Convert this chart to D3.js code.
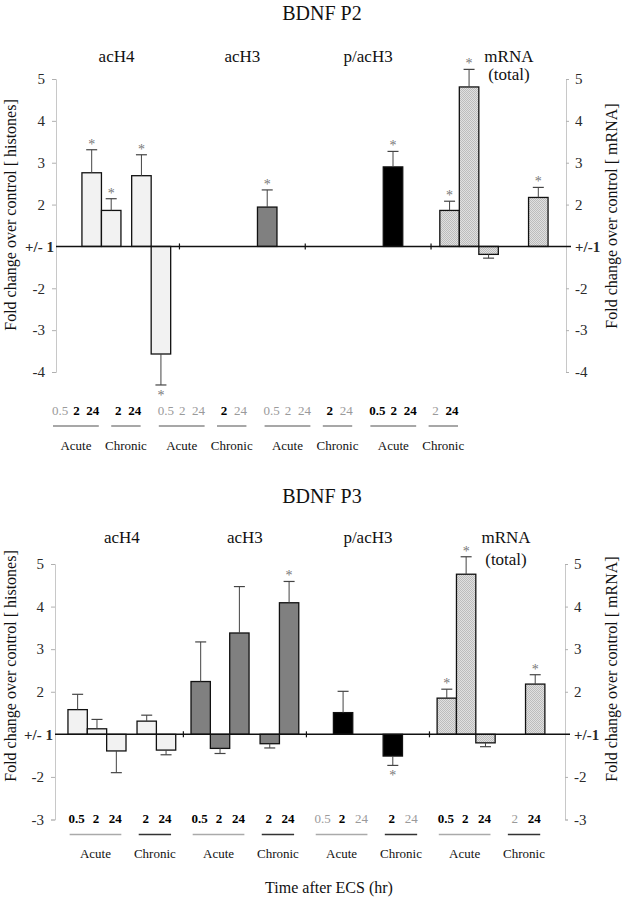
<!DOCTYPE html>
<html><head><meta charset="utf-8">
<script src="https://cdn.jsdelivr.net/npm/d3@7"></script>
<style>
body{margin:0;background:#fff}
svg{display:block}
text{font-family:"Liberation Serif","Times New Roman",serif}
</style>
</head><body>
<svg id="chart" width="622" height="900"></svg>
<script>
// ---------------- DATA ----------------
const groups = ["acH4", "acH3", "p/acH3", "mRNA"];
const acuteTimes = ["0.5", "2", "24"];
const chronicTimes = ["2", "24"];
const periodLabels = ["Acute", "Chronic"];
const yTicksP2 = [5, 4, 3, 2, 1, -2, -3, -4];
const yTicksP3 = [5, 4, 3, 2, 1, -2, -3];
const xAxisTitle = "Time after ECS (hr)";
const leftAxisTitle = "Fold change over control [ histones]";
const rightAxisTitle = "Fold change over control [ mRNA]";

// fold change per group: [acute 0.5, acute 2, acute 24, chronic 2, chronic 24]
const p2Mean = [
  [null, 2.76, 1.86, 2.69, -3.57],
  [null, null, null, 1.94, null],
  [null, null, null, 2.90, null],
  [1.86, 4.81, -1.19, null, 2.17]
];
const p2Sem = [
  [null, 0.55, 0.28, 0.50, 0.74],
  [null, null, null, 0.41, null],
  [null, null, null, 0.37, null],
  [0.22, 0.42, 0.09, null, 0.24]
];
const p2Star = [
  [0, 1, 1, 1, 1],
  [0, 0, 0, 1, 0],
  [0, 0, 0, 1, 0],
  [1, 1, 0, 0, 1]
];
const p2BoldLabel = [
  [0, 1, 1, 1, 1],
  [0, 0, 0, 1, 0],
  [0, 0, 0, 1, 0],
  [1, 1, 1, 0, 1]
];

const p3Mean = [
  [1.58, 1.13, -1.39, 1.31, -1.37],
  [2.24, -1.33, 3.38, -1.22, 4.09],
  [null, 1.51, null, -1.51, null],
  [1.85, 4.76, -1.20, null, 2.18]
];
const p3Sem = [
  [0.36, 0.22, 0.51, 0.14, 0.11],
  [0.93, 0.12, 1.09, 0.10, 0.50],
  [null, 0.50, null, 0.22, null],
  [0.21, 0.41, 0.09, null, 0.22]
];
const p3Star = [
  [0, 0, 0, 0, 0],
  [0, 0, 0, 0, 1],
  [0, 0, 0, 1, 0],
  [1, 1, 0, 0, 1]
];
const p3BoldLabel = [
  [1, 1, 1, 1, 1],
  [1, 1, 1, 1, 1],
  [0, 1, 0, 1, 0],
  [1, 1, 1, 0, 1]
];

// ---------------- LAYOUT / STYLE ----------------
const FONT = "'Liberation Serif', 'Times New Roman', serif";
const svg = d3.select("#chart");
const defs = svg.append("defs");
const pat = defs.append("pattern").attr("id", "hatch")
  .attr("patternUnits", "userSpaceOnUse").attr("width", 2).attr("height", 2);
pat.append("rect").attr("width", 2).attr("height", 2).attr("fill", "#e0e0e0");
pat.append("path").attr("d", "M0,0 L2,2 M-1,1 L1,3 M1,-1 L3,1")
  .attr("stroke", "#a4a4a4").attr("stroke-width", 0.6);

const groupFill = ["#f2f2f2", "#808080", "#000000", "url(#hatch)"];

// transformed axis: +/-1 collapsed to 0
const tf = v => (v >= 1 ? v - 1 : v + 1);

const panels = [
  {
    title: "BDNF P2", mean: p2Mean, sem: p2Sem, star: p2Star, bold: p2BoldLabel, ticks: yTicksP2,
    titleY: 20, subY: 62, sub2Y: 80,
    axisL: 56, axisR: 566, yRange: [372, 79], tMin: -3,
    padL: 0.33, P: 6.45, C: 3.55, padR: 0.92,
    labelScale: d3.scaleLinear().domain([0.5, 24.4]).range([60, 452]),
    labelY: 415, ulY: 426, perY: 450,
    ulColors: ["#8a8a8a", "#8a8a8a"],
    leftTitleY: 215, rightTitleY: 216
  },
  {
    title: "BDNF P3", mean: p3Mean, sem: p3Sem, star: p3Star, bold: p3BoldLabel, ticks: yTicksP3,
    titleY: 503, subY: 543, sub2Y: 565,
    axisL: 55, axisR: 565, yRange: [819.5, 564], tMin: -2,
    padL: 0.67, P: 6.36, C: 3.57, padR: 1.04,
    labelScale: null,
    labelY: 823, ulY: 834.5, perY: 858,
    ulColors: ["#aaaaaa", "#333333"],
    leftTitleY: 666, rightTitleY: 669
  }
];

panels.forEach(pn => {
  const g = svg.append("g").attr("font-family", FONT);
  const endSlot = 3 * pn.P + pn.C + 2;
  const xs = d3.scaleLinear().domain([-pn.padL, endSlot + pn.padR]).range([pn.axisL, pn.axisR]);
  const y = d3.scaleLinear().domain([pn.tMin, 4]).range(pn.yRange);
  const slotOf = (gi, k) => gi * pn.P + (k < 3 ? k : pn.C + (k - 3));
  const labX = s => pn.labelScale ? pn.labelScale(s + 0.5) : xs(s + 0.5) - 1;

  // title
  g.append("text").attr("x", 322).attr("y", pn.titleY).attr("text-anchor", "middle")
    .attr("font-size", 20).attr("fill", "#111").text(pn.title);

  // group subtitles
  groups.forEach((name, gi) => {
    const cx = xs(gi * pn.P + (pn.C + 2) / 2) + (name === "mRNA" ? 15 : 0);
    g.append("text").attr("x", cx).attr("y", pn.subY).attr("text-anchor", "middle")
      .attr("font-size", 17).attr("fill", "#111").text(name);
    if (name === "mRNA") {
      g.append("text").attr("x", cx).attr("y", pn.sub2Y).attr("text-anchor", "middle")
        .attr("font-size", 17).attr("fill", "#111").text("(total)");
    }
  });

  // axes
  const fmtL = t => (t === 0 ? "+/- 1" : String(t > 0 ? t + 1 : t - 1));
  const fmtR = t => (t === 0 ? "+/-1" : String(t > 0 ? t + 1 : t - 1));
  const tvals = pn.ticks.map(tf);
  const axL = g.append("g").attr("transform", `translate(${pn.axisL},0)`)
    .call(d3.axisLeft(y).tickValues(tvals).tickFormat(fmtL).tickSize(4).tickPadding(7));
  const axR = g.append("g").attr("transform", `translate(${pn.axisR},0)`)
    .call(d3.axisRight(y).tickValues(tvals).tickFormat(fmtR).tickSize(3).tickPadding(6));
  [axL, axR].forEach(ax => {
    ax.attr("font-family", FONT);
    ax.select(".domain").attr("stroke", "#c8c8c8").attr("stroke-width", 1);
    ax.selectAll(".tick line").attr("stroke", "#b0b0b0");
    ax.selectAll(".tick text").attr("font-size", 15).attr("fill", "#2a2a2a")
      .attr("font-family", FONT)
      .attr("font-weight", d => (d === 0 ? "bold" : "normal"));
  });
  axL.selectAll(".tick").filter(d => d === 0).select("line").remove();
  axR.selectAll(".tick").filter(d => d === 0).select("line").remove();
  axL.selectAll(".tick").filter(d => d === 0).select("text").attr("x", -2);

  // axis titles
  g.append("text").attr("transform", `translate(16,${pn.leftTitleY}) rotate(-90)`)
    .attr("text-anchor", "middle").attr("font-size", 16).attr("fill", "#111").text(leftAxisTitle);
  g.append("text").attr("transform", `translate(617,${pn.rightTitleY}) rotate(-90)`)
    .attr("text-anchor", "middle").attr("font-size", 16).attr("fill", "#111").text(rightAxisTitle);

  // bars
  const bars = [];
  groups.forEach((name, gi) => {
    pn.mean[gi].forEach((v, k) => {
      if (v === null) return;
      bars.push({ gi, k, v, sem: pn.sem[gi][k], star: pn.star[gi][k], s: slotOf(gi, k) });
    });
  });
  const y0 = y(0);
  g.selectAll("rect.bar").data(bars).enter().append("rect").attr("class", "bar")
    .attr("x", d => xs(d.s))
    .attr("width", d => xs(d.s + 1) - xs(d.s))
    .attr("y", d => Math.min(y(tf(d.v)), y0))
    .attr("height", d => Math.abs(y(tf(d.v)) - y0))
    .attr("fill", d => groupFill[d.gi])
    .attr("stroke", "#111").attr("stroke-width", 1.3);

  // error bars
  const tipVal = d => (d.v > 0 ? d.v + d.sem : d.v - d.sem);
  const eb = g.selectAll("g.err").data(bars).enter().append("g").attr("class", "err");
  eb.append("line")
    .attr("x1", d => xs(d.s + 0.5)).attr("x2", d => xs(d.s + 0.5))
    .attr("y1", d => y(tf(d.v))).attr("y2", d => y(tf(tipVal(d))))
    .attr("stroke", "#444").attr("stroke-width", 1);
  eb.append("line")
    .attr("x1", d => xs(d.s + 0.5) - 5.5).attr("x2", d => xs(d.s + 0.5) + 5.5)
    .attr("y1", d => y(tf(tipVal(d)))).attr("y2", d => y(tf(tipVal(d))))
    .attr("stroke", "#444").attr("stroke-width", 1.2);
  g.selectAll("text.star").data(bars.filter(d => d.star)).enter().append("text").attr("class", "star")
    .attr("x", d => xs(d.s + 0.5))
    .attr("y", d => (d.v > 0 ? y(tf(tipVal(d))) - 1 : y(tf(tipVal(d))) + 15))
    .attr("text-anchor", "middle").attr("font-size", 14).attr("fill", "#777").text("*");

  // baseline (+/-1)
  g.append("line").attr("x1", pn.axisL).attr("x2", pn.axisR + 5)
    .attr("y1", y0).attr("y2", y0).attr("stroke", "#111").attr("stroke-width", 1.5);
  // group separator ticks
  [0, 1, 2].forEach(gi => {
    const sx = xs(((gi * pn.P + pn.C + 2) + (gi + 1) * pn.P) / 2);
    g.append("line").attr("x1", sx).attr("x2", sx).attr("y1", y0 - 3).attr("y2", y0 + 3)
      .attr("stroke", "#111").attr("stroke-width", 1.2);
  });

  // time labels, underlines, period labels
  groups.forEach((name, gi) => {
    [acuteTimes, chronicTimes].forEach((times, pi) => {
      const xsList = times.map((t, j) => labX(slotOf(gi, pi === 0 ? j : 3 + j)));
      times.forEach((t, j) => {
        const k = pi === 0 ? j : 3 + j;
        const b = pn.bold[gi][k];
        g.append("text").attr("x", xsList[j]).attr("y", pn.labelY).attr("text-anchor", "middle")
          .attr("font-size", 13).attr("font-weight", b ? "bold" : "normal")
          .attr("fill", b ? "#000" : "#9a9a9a").text(t);
      });
      const x1 = xsList[0] - 7, x2 = xsList[xsList.length - 1] + 6;
      g.append("line").attr("x1", x1).attr("x2", x2).attr("y1", pn.ulY).attr("y2", pn.ulY)
        .attr("stroke", pn.ulColors[pi]).attr("stroke-width", 1.5);
      g.append("text").attr("x", (x1 + x2) / 2).attr("y", pn.perY).attr("text-anchor", "middle")
        .attr("font-size", 13).attr("fill", "#111").text(periodLabels[pi]);
    });
  });
});

svg.append("text").attr("x", 329).attr("y", 893).attr("text-anchor", "middle")
  .attr("font-family", FONT)
  .attr("font-size", 16).attr("fill", "#111").text(xAxisTitle);
</script>
</body></html>
